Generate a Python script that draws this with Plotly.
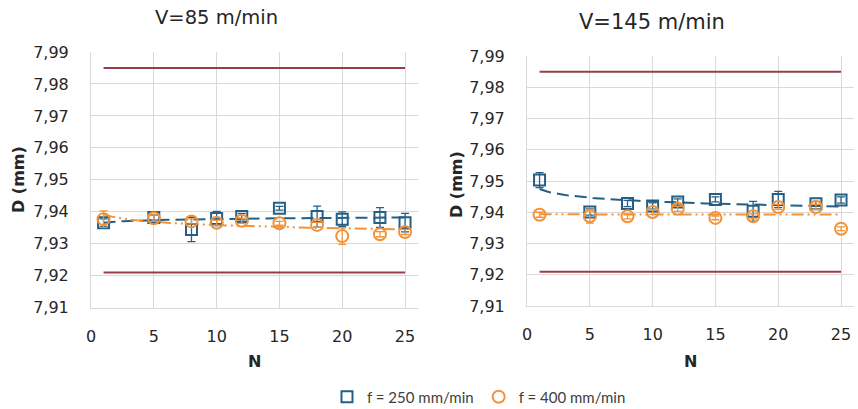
import numpy as np
import plotly.graph_objects as go

# ---------------- data ----------------
N = [1, 5, 8, 10, 12, 15, 18, 20, 23, 25]

# V = 85 m/min
d85_f250 = [7.9366, 7.9382, 7.9345, 7.9379, 7.9385, 7.9411, 7.9385, 7.9377, 7.9382, 7.9366]
e85_f250 = [0.0012, 0.0008, 0.0038, 0.0022, 0.0010, 0.0006, 0.0033, 0.0023, 0.0031, 0.0029]
d85_f400 = [7.9377, 7.9380, 7.9370, 7.9366, 7.9372, 7.9364, 7.9359, 7.9324, 7.9330, 7.9337]
e85_f400 = [0.0026, 0.0010, 0.0008, 0.0008, 0.0008, 0.0006, 0.0008, 0.0026, 0.0008, 0.0008]

# V = 145 m/min
d145_f250 = [7.9503, 7.9401, 7.9428, 7.9420, 7.9433, 7.9441, 7.9403, 7.9441, 7.9427, 7.9439]
e145_f250 = [0.0024, 0.0010, 0.0010, 0.0010, 0.0010, 0.0008, 0.0032, 0.0026, 0.0008, 0.0010]
d145_f400 = [7.9392, 7.9387, 7.9387, 7.9401, 7.9411, 7.9382, 7.9387, 7.9417, 7.9417, 7.9347]
e145_f400 = [0.0008, 0.0022, 0.0008, 0.0008, 0.0008, 0.0006, 0.0008, 0.0008, 0.0008, 0.0006]

tol_N = [1, 25]
tol_upper = [7.985, 7.985]
tol_lower = [7.921, 7.921]

titles = ["V=85 m/min", "V=145 m/min"]
series_names = ["f = 250 mm/min", "f = 400 mm/min"]
y_ticks = [7.91, 7.92, 7.93, 7.94, 7.95, 7.96, 7.97, 7.98, 7.99]
x_ticks = [0, 5, 10, 15, 20, 25]

# ---------------- style ----------------
BLUE = "#245F86"
ORANGE = "#F39237"
TOL = "#983C47"
GRID = "#D9D9D9"
TXT = "#262626"
TICKFONT = dict(family="DejaVu Sans", size=16, color=TXT)


def log_fit(x, y):
    a, b = np.polyfit(np.log(x), y, 1)
    xs = np.linspace(min(x), max(x), 120)
    return xs, a * np.log(xs) + b


fig = go.Figure()

panels = [
    ("x", "y", d85_f250, e85_f250, d85_f400, e85_f400),
    ("x2", "y2", d145_f250, e145_f250, d145_f400, e145_f400),
]

for i, (xa, ya, yb, eb, yo, eo) in enumerate(panels):
    show = i == 0
    # tolerance lines
    for tl in (tol_upper, tol_lower):
        fig.add_trace(go.Scatter(x=tol_N, y=tl, xaxis=xa, yaxis=ya, mode="lines",
                                 line=dict(color=TOL, width=2), showlegend=False,
                                 hoverinfo="skip"))
    # trendlines
    xs, ys = log_fit(N, yb)
    fig.add_trace(go.Scatter(x=xs, y=ys, xaxis=xa, yaxis=ya, mode="lines",
                             line=dict(color=BLUE, width=2, dash="12px,6px"),
                             showlegend=False, hoverinfo="skip"))
    xs, ys = log_fit(N, yo)
    fig.add_trace(go.Scatter(x=xs, y=ys, xaxis=xa, yaxis=ya, mode="lines",
                             line=dict(color=ORANGE, width=2,
                                       dash="12px,4px,2px,4px,2px,4px"),
                             showlegend=False, hoverinfo="skip"))
    # data
    fig.add_trace(go.Scatter(x=N, y=yb, xaxis=xa, yaxis=ya, mode="markers",
                             name=series_names[0], showlegend=show, legendrank=1,
                             marker=dict(symbol="square-open", size=11, color=BLUE,
                                         line=dict(width=2, color=BLUE)),
                             error_y=dict(type="data", array=eb, visible=True,
                                          color=BLUE, thickness=1.3, width=4)))
    fig.add_trace(go.Scatter(x=N, y=yo, xaxis=xa, yaxis=ya, mode="markers",
                             name=series_names[1], showlegend=show, legendrank=2,
                             marker=dict(symbol="circle-open", size=12, color=ORANGE,
                                         line=dict(width=2, color=ORANGE)),
                             error_y=dict(type="data", array=eo, visible=True,
                                          color=ORANGE, thickness=1.3, width=4)))

W, H = 858, 409

axis_common = dict(showgrid=True, gridcolor=GRID, gridwidth=1, zeroline=False,
                   showline=True, linecolor=GRID, linewidth=1, ticks="",
                   tickfont=TICKFONT, automargin=False)

fig.update_layout(
    width=W, height=H,
    margin=dict(l=0, r=0, t=0, b=0, autoexpand=False),
    paper_bgcolor="white", plot_bgcolor="white",
    separators=",.",
    showlegend=True,
    legend=dict(orientation="h", x=327 / W, xanchor="left", y=1 - 397 / H,
                yanchor="middle", font=dict(family="Lato", size=15, color="#404040"),
                itemwidth=30, tracegroupgap=0, bgcolor="rgba(0,0,0,0)"),
    xaxis=dict(domain=[91 / W, 417.6 / W], range=[0, 26], tickvals=x_ticks,
               anchor="y", ticklabelstandoff=14, **axis_common),
    yaxis=dict(domain=[1 - 307.7 / H, 1 - 52 / H], range=[7.91, 7.99],
               tickvals=y_ticks, tickformat=".2f", anchor="x",
               ticklabelstandoff=18, **axis_common),
    xaxis2=dict(domain=[527 / W, 853.6 / W], range=[0, 26], tickvals=x_ticks,
                anchor="y2", ticklabelstandoff=14, **axis_common),
    yaxis2=dict(domain=[1 - 306 / H, 1 - 56 / H], range=[7.91, 7.99],
                tickvals=y_ticks, tickformat=".2f", anchor="x2",
                ticklabelstandoff=18, **axis_common),
)

ann = []
# titles
ann.append(dict(text=titles[0], x=216.5 / W, y=1 - 18 / H, xref="paper", yref="paper",
                showarrow=False, xanchor="center", yanchor="middle",
                font=dict(family="DejaVu Sans", size=19.5, color=TXT)))
ann.append(dict(text=titles[1], x=652 / W, y=1 - 22.5 / H, xref="paper", yref="paper",
                showarrow=False, xanchor="center", yanchor="middle",
                font=dict(family="DejaVu Sans", size=21, color=TXT)))
# axis titles
for xc in (254, 690):
    ann.append(dict(text="<b>N</b>", x=xc / W, y=1 - 361 / H, xref="paper", yref="paper",
                    showarrow=False, xanchor="center", yanchor="middle",
                    font=dict(family="DejaVu Sans", size=16, color=TXT)))
for xc, yc in ((18, 180), (457, 185)):
    ann.append(dict(text="<b>D (mm)</b>", x=xc / W, y=1 - yc / H, xref="paper",
                    yref="paper", showarrow=False, xanchor="center", yanchor="middle",
                    textangle=-90,
                    font=dict(family="DejaVu Sans", size=16, color=TXT)))
fig.update_layout(annotations=ann)

fig.write_html("out.html",
               config={"displayModeBar": False},
               post_script="document.body.style.margin='0px';"
                           "document.body.style.overflow='hidden';")
